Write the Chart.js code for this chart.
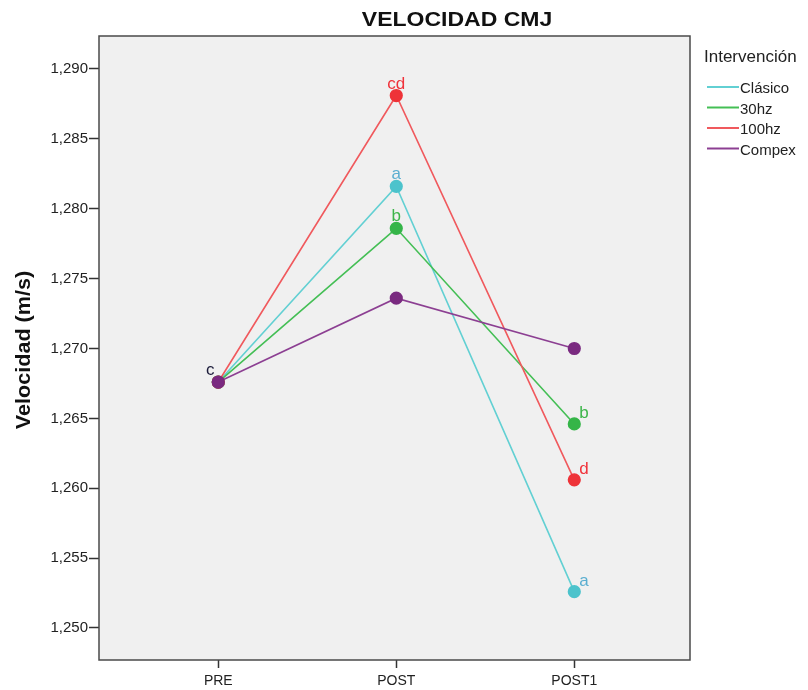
<!DOCTYPE html>
<html>
<head>
<meta charset="utf-8">
<script src="https://cdn.jsdelivr.net/npm/chart.js@4"></script>
<style>
  html, body { margin:0; padding:0; background:#fff; }
  #wrap { width:808px; height:690px; position:relative; }
</style>
</head>
<body>
<div id="wrap"><canvas id="cmj" width="808" height="690"></canvas></div>
<script>
// momentos de medida
const moments = ['PRE', 'POST', 'POST1'];
const yTicks = [1.250, 1.255, 1.260, 1.265, 1.270, 1.275, 1.280, 1.285, 1.290];

// medias de velocidad por intervención
const clasico = [1.2676, 1.2816, 1.2526];
const hz30    = [1.2676, 1.2786, 1.2646];
const hz100   = [1.2676, 1.2881, 1.2606];
const compex  = [1.2676, 1.2736, 1.2700];

// letras de significación
const lblClasico = ['', 'a', 'a'];
const lblHz30    = ['', 'b', 'b'];
const lblHz100   = ['', 'cd', 'd'];
const lblCompex  = ['', '', ''];
const preLabel   = 'c';

const FONT = '"Liberation Sans", Arial, sans-serif';

const series = [
  { name:'Clásico', data:clasico, labels:lblClasico, line:'#62d0d3', dot:'#4cc3cc', text:'#5aaed0' },
  { name:'30hz',    data:hz30,    labels:lblHz30,    line:'#44bf55', dot:'#35b548', text:'#3db54a' },
  { name:'100hz',   data:hz100,   labels:lblHz100,   line:'#f0595d', dot:'#ee3338', text:'#f0323a' },
  { name:'Compex',  data:compex,  labels:lblCompex,  line:'#8c3f92', dot:'#7a2a80', text:'#7a2a80' },
];

// el último (Compex) queda encima, como en el original
const datasets = series.map((s, i) => ({
  label: s.name,
  order: series.length - i,
  data: s.data.map((v, k) => ({ x:k, y:v })),
  borderColor: s.line,
  backgroundColor: s.dot,
  pointBackgroundColor: s.dot,
  pointBorderColor: s.dot,
  pointRadius: 5.8,
  borderWidth: 1.6,
  tension: 0,
}));

const decor = {
  id: 'decor',
  beforeDraw(chart) {
    const { ctx, chartArea:a } = chart;
    ctx.save();
    ctx.fillStyle = '#f0f0f0';
    ctx.fillRect(a.left, a.top, a.right - a.left, a.bottom - a.top);
    ctx.restore();
  },
  afterDraw(chart) {
    const { ctx, chartArea:a, scales } = chart;
    ctx.save();
    // marco
    ctx.strokeStyle = '#4a4a4a';
    ctx.lineWidth = 1.5;
    ctx.strokeRect(a.left, a.top, a.right - a.left, a.bottom - a.top);

    // título
    ctx.fillStyle = '#111';
    ctx.textAlign = 'center';
    ctx.textBaseline = 'alphabetic';
    ctx.save();
    ctx.translate(457, 26);
    ctx.scale(1.15, 1);
    ctx.font = 'bold 20px ' + FONT;
    ctx.fillText('VELOCIDAD CMJ', 0, 0);
    ctx.restore();

    // título eje y
    ctx.save();
    ctx.translate(30, 350);
    ctx.rotate(-Math.PI / 2);
    ctx.scale(1.08, 1);
    ctx.font = 'bold 20px ' + FONT;
    ctx.fillText('Velocidad (m/s)', 0, 0);
    ctx.restore();

    // letras sobre los puntos
    ctx.font = '17px ' + FONT;
    series.forEach(s => {
      ctx.fillStyle = s.text;
      s.labels.forEach((t, i) => {
        if (!t) return;
        const px = scales.x.getPixelForValue(i);
        const py = scales.y.getPixelForValue(s.data[i]);
        if (i === 2) {
          ctx.textAlign = 'left';
          ctx.fillText(t, px + 5, py - 6);
        } else {
          ctx.textAlign = 'center';
          ctx.fillText(t, px, py - 7);
        }
      });
    });
    ctx.fillStyle = '#1c1c3a';
    ctx.textAlign = 'center';
    ctx.fillText(preLabel, scales.x.getPixelForValue(0) - 8,
                 scales.y.getPixelForValue(compex[0]) - 7);

    // leyenda
    ctx.textAlign = 'left';
    ctx.fillStyle = '#222';
    ctx.font = '17px ' + FONT;
    ctx.fillText('Intervención', 704, 62);
    ctx.font = '15px ' + FONT;
    series.forEach((s, i) => {
      const y = 87 + i * 20.5;
      ctx.strokeStyle = s.line;
      ctx.lineWidth = 2;
      ctx.beginPath();
      ctx.moveTo(707, y);
      ctx.lineTo(739, y);
      ctx.stroke();
      ctx.fillStyle = '#222';
      ctx.fillText(s.name, 740, y + 6);
    });
    ctx.restore();
  }
};

new Chart(document.getElementById('cmj'), {
  type: 'line',
  data: { datasets },
  plugins: [decor],
  options: {
    responsive: false,
    animation: false,
    layout: { padding: { top:36, right:118, left:0, bottom:0 } },
    scales: {
      x: {
        type: 'linear',
        min: -0.67, max: 2.65,
        grid: { display:true, drawOnChartArea:false, drawTicks:true, tickLength:8, color:'#333', tickWidth:1.5 },
        border: { display:false },
        afterBuildTicks: sc => { sc.ticks = moments.map((m, i) => ({ value:i })); },
        afterFit: sc => { sc.height = 30; },
        ticks: { color:'#222', font:{ family:FONT, size:14 }, padding:5,
                 callback: v => moments[v] ?? '' },
      },
      y: {
        min: 1.24771, max: 1.29236,
        grid: { display:true, drawOnChartArea:false, drawTicks:true, tickLength:10, color:'#333', tickWidth:1.5 },
        border: { display:false },
        afterBuildTicks: sc => { sc.ticks = yTicks.map(v => ({ value:v })); },
        afterFit: sc => { sc.width = 99; },
        ticks: { color:'#222', font:{ family:FONT, size:15 }, padding:1,
                 callback: v => v.toFixed(3).replace('.', ',') },
      },
    },
    plugins: { legend:{ display:false }, tooltip:{ enabled:false } },
  },
});
</script>
</body>
</html>
